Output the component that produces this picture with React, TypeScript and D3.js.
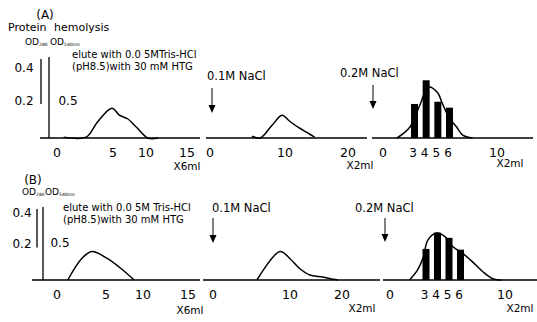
import * as d3 from "d3";

// fraction numbers and OD readings
const aLeftX = [0.6, 2.6, 3.6, 4.9, 6.0, 7.2, 8.6, 10.2, 11.5];
const aLeftY = [0.005, 0.005, 0.09, 0.17, 0.13, 0.11, 0.06, 0.0, 0.0];
const aMidX = [5.6, 6.7, 8.3, 9.6, 10.7, 12.0, 13.6, 14.7];
const aMidY = [0.01, 0.0, 0.074, 0.13, 0.097, 0.063, 0.029, 0.005];
const aRightX = [1.4, 2.7, 3.6, 4.3, 5.1, 5.5, 6.1, 6.7, 7.2, 8.0];
const aRightY = [0.0, 0.063, 0.19, 0.29, 0.26, 0.2, 0.114, 0.063, 0.017, 0.0];
const bLeftX = [1.1, 2.55, 3.57, 5.1, 6.9, 8.8];
const bLeftY = [0.0, 0.13, 0.17, 0.13, 0.073, 0.0];
const bMidX = [5.7, 8.7, 10.0, 11.9, 13.8, 16.3, 18.3, 19.2];
const bMidY = [0.0, 0.17, 0.127, 0.067, 0.03, 0.018, 0.004, 0.0];
const bRightX = [1.7, 2.4, 2.9, 3.3, 4.1, 4.8, 5.5, 6.3, 7.2, 8.1, 9.0, 9.7];
const bRightY = [0.0, 0.06, 0.137, 0.24, 0.28, 0.257, 0.197, 0.16, 0.107, 0.048, 0.006, 0.0];

// hemolysis (OD540) of fractions 3-6
const hemoFractions = [3, 4, 5, 6];
const aHemo = [0.46, 0.78, 0.49, 0.41];
const bHemo = [0.42, 0.64, 0.57, 0.41];

const leftTicks = [0, 5, 10, 15];
const midTicks = [0, 10, 20];
const rightTicks = [0, 3, 4, 5, 6, 10];

const FONT = "DejaVu Sans, sans-serif";

const line = (x: d3.ScaleLinear<number, number>, y: d3.ScaleLinear<number, number>, xs: number[], ys: number[]) =>
  d3
    .line<number>()
    .x((_, i) => x(xs[i]))
    .y((d) => y(d))
    .curve(d3.curveCatmullRom)(ys) ?? "";

const Arrow = ({ x, y1, y2 }: { x: number; y1: number; y2: number }) => (
  <g>
    <line x1={x} x2={x} y1={y1} y2={y2 - 6} stroke="#000" strokeWidth={1} />
    <path d={`M${x - 3.5},${y2 - 8} L${x + 3.5},${y2 - 8} L${x},${y2} Z`} fill="#000" />
  </g>
);

const Ticks = ({ x, ticks, y }: { x: d3.ScaleLinear<number, number>; ticks: number[]; y: number }) => (
  <g fontSize={12.5} textAnchor="middle" dominantBaseline="middle">
    {ticks.map((t) => (
      <text key={t} x={x(t)} y={y}>
        {t}
      </text>
    ))}
  </g>
);

const OD = ({ x, y, sub }: { x: number; y: number; sub: string }) => (
  <text x={x} y={y} fontSize={9}>
    OD<tspan fontSize={4.5} dy={2.5}>{sub}</tspan>
  </text>
);

const Row = (p: {
  base: number;
  y04: number;
  y05: number;
  xl: number[];
  xm: number[];
  xr: number[];
  left: [number[], number[]];
  mid: [number[], number[]];
  right: [number[], number[]];
  hemo: number[];
  seg: number[];
  shortAxis: number;
  mainAxis: number;
  axisTop: number;
  labX: number;
  halfX: number;
  tickY: number;
  unitY: number[];
  unitX: number[];
  arrowX: number[];
  arrowTop: number;
  naclX: number[];
  naclY: number[];
  elute: string;
  eluteX: number;
  eluteY: number;
}) => {
  const xL = d3.scaleLinear().domain(leftTicks).range(p.xl);
  const xM = d3.scaleLinear().domain(midTicks).range(p.xm);
  const xR = d3.scaleLinear().domain(p.xr.length === 2 ? [0, 10] : [0, 3, 6, 10]).range(p.xr);
  const yOD = d3.scaleLinear().domain([0, 0.4]).range([p.base, p.y04]);
  const yHem = d3.scaleLinear().domain([0, 0.5]).range([p.base, p.y05]);
  return (
    <g>
      {/* baselines */}
      <g stroke="#000" strokeWidth={1.3}>
        <line x1={p.seg[0]} x2={p.seg[1]} y1={p.base} y2={p.base} />
        <line x1={p.seg[2]} x2={p.seg[3]} y1={p.base} y2={p.base} />
        <line x1={p.seg[4]} x2={p.seg[5]} y1={p.base} y2={p.base} />
        <line x1={p.shortAxis} x2={p.shortAxis} y1={p.axisTop + 2} y2={yOD(0.2) + 1} />
        <line x1={p.mainAxis} x2={p.mainAxis} y1={p.axisTop} y2={p.base} />
      </g>
      <g fontSize={12} dominantBaseline="middle" textAnchor="middle">
        <text x={p.labX} y={yOD(0.4)}>0.4</text>
        <text x={p.labX} y={yOD(0.2) - 2}>0.2</text>
        <text x={p.halfX} y={yHem(0.5)}>0.5</text>
      </g>
      <g fontSize={10}>
        <text x={p.eluteX} y={p.eluteY} dominantBaseline="middle">{p.elute}</text>
        <text x={p.eluteX} y={p.eluteY + 12} dominantBaseline="middle">(pH8.5)with 30 mM HTG</text>
      </g>
      {/* protein curves */}
      <g fill="none" stroke="#000" strokeWidth={1.5}>
        <path d={line(xL, yOD, p.left[0], p.left[1])} />
        <path d={line(xM, yOD, p.mid[0], p.mid[1])} />
        <path d={line(xR, yOD, p.right[0], p.right[1])} />
      </g>
      {/* hemolysis bars */}
      {hemoFractions.map((f, i) => (
        <rect key={f} x={xR(f) + 1.5 - 3.5} y={yHem(p.hemo[i])} width={7} height={p.base - yHem(p.hemo[i])} fill="#000" />
      ))}
      <Ticks x={xL} ticks={leftTicks} y={p.tickY} />
      <Ticks x={xM} ticks={midTicks} y={p.tickY} />
      <g fontSize={12.5} textAnchor="middle" dominantBaseline="middle">
        {rightTicks.map((t) => (
          <text key={t} x={xR(t)} y={p.tickY} fontSize={t > 0 && t < 10 ? 12 : 12.5}>
            {t}
          </text>
        ))}
      </g>
      <g fontSize={10.5} textAnchor="middle" dominantBaseline="middle">
        <text x={p.unitX[0]} y={p.unitY[0]}>X6ml</text>
        <text x={p.unitX[1]} y={p.unitY[1]}>X2ml</text>
        <text x={p.unitX[2]} y={p.unitY[2]}>X2ml</text>
      </g>
      <Arrow x={p.arrowX[0]} y1={p.arrowTop} y2={p.arrowTop + 25} />
      <Arrow x={p.arrowX[1]} y1={p.arrowTop + (p.naclY[1] - p.naclY[0])} y2={p.arrowTop + 24 + (p.naclY[1] - p.naclY[0])} />
      <g fontSize={11.5} dominantBaseline="middle">
        <text x={p.naclX[0]} y={p.naclY[0]}>0.1M NaCl</text>
        <text x={p.naclX[1]} y={p.naclY[1]}>0.2M NaCl</text>
      </g>
    </g>
  );
};

export default function App() {
  return (
    <svg width={537} height={322} style={{ position: "absolute", left: 0, top: 0 }} fontFamily={FONT}>
      <rect width={537} height={322} fill="#fff" />
      {/* headers */}
      <g fontSize={11} dominantBaseline="middle">
        <text x={45} y={15} textAnchor="middle" fontSize={12}>(A)</text>
        <text x={8} y={28}>Protein</text>
        <text x={54} y={28}>hemolysis</text>
        <text x={33} y={180} textAnchor="middle" fontSize={12}>(B)</text>
      </g>
      <g dominantBaseline="middle">
        <OD x={25} y={42} sub="280" />
        <OD x={50} y={42} sub="540nm" />
        <OD x={22} y={192} sub="280" />
        <OD x={45} y={192} sub="540nm" />
      </g>
      <Row
        base={138}
        y04={68}
        y05={101}
        xl={[57, 113, 146, 187]}
        xm={[210, 285, 348]}
        xr={[383, 413, 448, 497]}
        left={[aLeftX, aLeftY]}
        mid={[aMidX, aMidY]}
        right={[aRightX, aRightY]}
        hemo={aHemo}
        seg={[40, 200, 206, 367, 372, 533]}
        shortAxis={41}
        mainAxis={49}
        axisTop={57}
        labX={24}
        halfX={68}
        tickY={153}
        unitX={[187, 360, 510]}
        unitY={[167, 166, 164]}
        arrowX={[212, 373]}
        arrowTop={88}
        naclX={[207, 340]}
        naclY={[76, 73]}
        elute="elute with 0.0 5MTris-HCl"
        eluteX={72}
        eluteY={55}
      />
      <Row
        base={280}
        y04={213}
        y05={243}
        xl={[57, 106, 143, 188]}
        xm={[213, 290, 342]}
        xr={[390, 505]}
        left={[bLeftX, bLeftY]}
        mid={[bMidX, bMidY]}
        right={[bRightX, bRightY]}
        hemo={bHemo}
        seg={[32, 200, 203, 380, 383, 537]}
        shortAxis={37}
        mainAxis={43}
        axisTop={207}
        labX={22}
        halfX={60}
        tickY={295}
        unitX={[190, 362, 520]}
        unitY={[311, 309, 309]}
        arrowX={[213, 385]}
        arrowTop={218}
        naclX={[212, 355]}
        naclY={[208, 208]}
        elute="elute with 0.0 5M Tris-HCl"
        eluteX={63}
        eluteY={208}
      />
    </svg>
  );
}
